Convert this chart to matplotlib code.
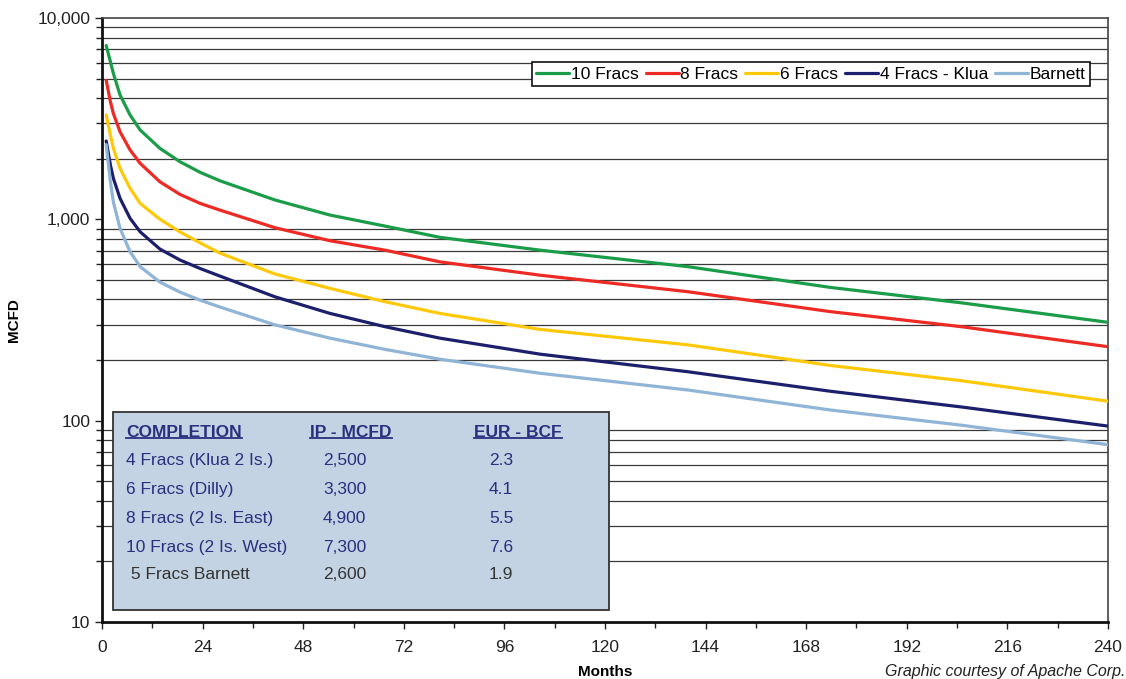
import numpy as np
import matplotlib.pyplot as plt
from matplotlib.ticker import FixedLocator, FixedFormatter, NullFormatter

plt.rcParams['font.family'] = ['Liberation Sans', 'DejaVu Sans']

# data (months vs MCFD)
months = [1, 2, 2.7, 4.3, 6.7, 9.1, 13.8, 18.6, 23.4, 28.1, 41.3, 54.4, 67.5, 80.6,
          104.5, 139.8, 173.8, 205, 240]
frac10 = [7300, 6065, 5313, 4146, 3297, 2777, 2253, 1932, 1712, 1555, 1247, 1050, 926, 814,
          703, 582, 459, 385, 308]
frac8 = [4900, 3840, 3360, 2720, 2210, 1897, 1537, 1330, 1200, 1112, 908, 783, 703, 615,
         528, 437, 348, 293, 233]
frac6 = [3300, 2620, 2254, 1791, 1425, 1200, 1002, 866, 764, 680, 535, 454, 390, 341,
         284, 238, 188, 158, 125]
frac4 = [2450, 1862, 1600, 1271, 1011, 867, 712, 628, 570, 523, 412, 341, 293, 257,
         214, 175, 140, 117, 94]
barnett = [2350, 1537, 1222, 902, 690, 582, 488, 435, 397, 367, 299, 257, 226, 202,
           172, 142, 113, 95, 76]

series = [
    ('10 Fracs', frac10, '#1a9c48'),
    ('8 Fracs', frac8, '#ee2a24'),
    ('6 Fracs', frac6, '#ffc90a'),
    ('4 Fracs - Klua', frac4, '#1c1f6b'),
    ('Barnett', barnett, '#8fb4d6'),
]

tbl_header = ['COMPLETION', 'IP - MCFD', 'EUR - BCF']
tbl_names = ['4 Fracs (Klua 2 Is.)', '6 Fracs (Dilly)', '8 Fracs (2 Is. East)',
             '10 Fracs (2 Is. West)', ' 5 Fracs Barnett']
tbl_ip = ['2,500', '3,300', '4,900', '7,300', '2,600']
tbl_eur = ['2.3', '4.1', '5.5', '7.6', '1.9']

fig = plt.figure(figsize=(11.26, 6.79), dpi=100)
ax = fig.add_axes([0.0906, 0.0839, 0.8934, 0.8896])

ax.set_yscale('log')
ax.set_ylim(10, 10000)
ax.set_xlim(0, 240)

# horizontal gridlines only at the in-between steps (2..9 of each decade)
for e in range(1, 4):
    for m in range(2, 10):
        ax.axhline(m * 10 ** e, color='#3a3a3a', lw=0.9, zorder=1)

for name, vals, c in series:
    ax.plot(months, vals, color=c, lw=2.3, label=name, zorder=3,
            solid_capstyle='round', solid_joinstyle='round')

ax.yaxis.set_major_locator(FixedLocator([10, 100, 1000, 10000]))
ax.yaxis.set_major_formatter(FixedFormatter(['10', '100', '1,000', '10,000']))
ax.yaxis.set_minor_formatter(NullFormatter())
ax.set_xticks(range(0, 241, 24))
ax.set_xticks(range(12, 241, 24), minor=True)
ax.tick_params(axis='both', which='both', direction='out', colors='#222222',
               labelsize=12.5, length=5, width=1)
ax.tick_params(axis='both', which='minor', length=4)
ax.tick_params(axis='x', pad=8)

for s in ['left', 'bottom']:
    ax.spines[s].set_linewidth(2)
    ax.spines[s].set_color('#111111')
for s in ['top', 'right']:
    ax.spines[s].set_linewidth(1.2)
    ax.spines[s].set_color('#444444')

ax.set_xlabel('Months', fontsize=11, fontweight='bold', labelpad=7)
ax.set_ylabel('MCFD', fontsize=11, fontweight='bold')
ax.yaxis.set_label_coords(-0.081, 0.5)

leg = ax.legend(loc='upper right', bbox_to_anchor=(0.982, 0.927), ncol=5,
                fontsize=12.5, frameon=True, fancybox=False, handlelength=1.9,
                handletextpad=0.1, columnspacing=0.4, borderpad=0.25,
                borderaxespad=0)
leg.get_frame().set_edgecolor('#111111')
leg.get_frame().set_linewidth(1.2)
leg.get_frame().set_alpha(1)

# summary table box
box = plt.Rectangle((0.0109, 0.0199), 0.4931, 0.3278, transform=ax.transAxes,
                    facecolor='#c3d3e3', edgecolor='#333333', lw=1.3, zorder=4)
ax.add_patch(box)

navy = '#2a2f7e'
col_x = [0.0239, 0.2068, 0.3698]
val_x = [0.0239, 0.2197, 0.3848]
head_y = 0.314
hdr_texts = []
for x, h in zip(col_x, tbl_header):
    t = ax.text(x, head_y, h, transform=ax.transAxes, fontsize=12.5,
                fontweight='bold', color=navy, va='center', zorder=5)
    hdr_texts.append(t)

row_y = [0.268, 0.220, 0.172, 0.124, 0.078]
for i in range(5):
    c = navy if i < 4 else '#333333'
    ax.text(val_x[0], row_y[i], tbl_names[i], transform=ax.transAxes,
            fontsize=12.5, color=c, va='center', zorder=5)
    ax.text(val_x[1], row_y[i], tbl_ip[i], transform=ax.transAxes,
            fontsize=12.5, color=c, va='center', zorder=5)
    ax.text(val_x[2], row_y[i], tbl_eur[i], transform=ax.transAxes,
            fontsize=12.5, color=c, va='center', zorder=5)

fig.text(0.786, 0.004, 'Graphic courtesy of Apache Corp.', fontsize=11.5,
         style='italic', color='#222222')

# underline header texts
fig.canvas.draw()
r = fig.canvas.get_renderer()
inv = ax.transAxes.inverted()
for t in hdr_texts:
    bb = t.get_window_extent(r)
    (x0, y0), (x1, y1) = inv.transform([(bb.x0, bb.y0), (bb.x1, bb.y1)])
    ax.plot([x0, x1], [y0 + 0.003, y0 + 0.003], transform=ax.transAxes,
            color=navy, lw=1.3, zorder=5)

fig.savefig('out.png', dpi=100)
